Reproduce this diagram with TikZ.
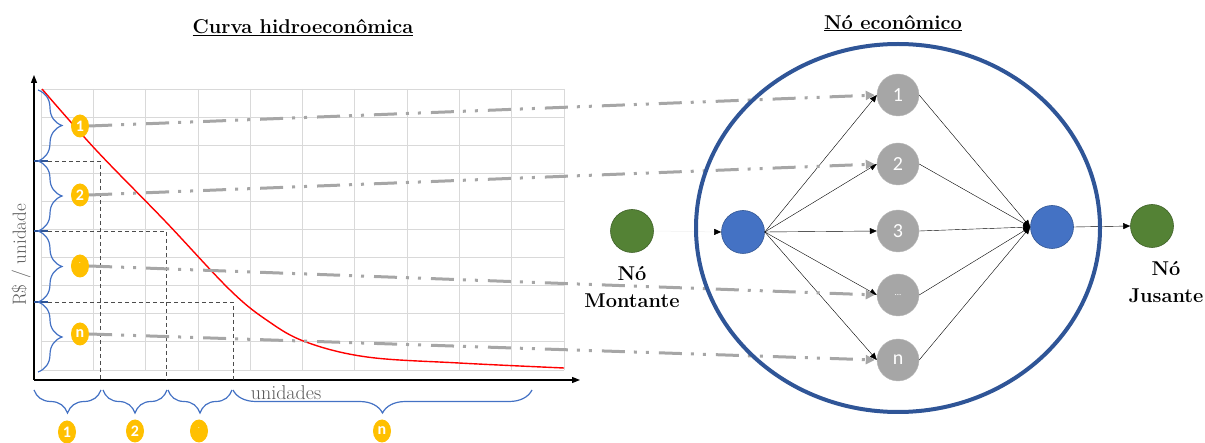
\documentclass[tikz,border=0pt]{standalone}
\usepackage{fontspec}
\newfontfamily\calibri{Carlito}
\usetikzlibrary{arrows.meta, positioning, shapes.geometric, decorations.pathreplacing}

\definecolor{amarelo}{HTML}{FFC000}
\definecolor{azul}{HTML}{4472C4}
\definecolor{azulesc}{HTML}{2F5597}
\definecolor{verde}{HTML}{548235}
\definecolor{cinza}{HTML}{A6A6A6}
\definecolor{grade}{HTML}{D9D9D9}
\definecolor{texto}{HTML}{595959}

\tikzset{
  no/.style={circle, minimum size=43pt, inner sep=0pt, draw=#1!75!black, fill=#1, line width=0.6pt},
  nocinza/.style={circle, minimum size=42pt, inner sep=0pt, fill=cinza, draw=cinza!80!white,
    text=white, font=\calibri\fontsize{20}{20}\selectfont},
  rotulo/.style={ellipse, minimum width=18pt, minimum height=23pt, inner sep=0pt, fill=amarelo,
    text=white, font=\calibri\bfseries\fontsize{16}{16}\selectfont},
  chave/.style={decorate, decoration={brace, amplitude=#1}, azul, line width=1.2pt},
  ligacao/.style={cinza, line width=3pt, dash pattern=on 23pt off 9pt on 3pt off 9pt on 3pt off 10pt,
    -{Triangle[length=9pt,width=9pt]}, shorten >=2pt},
  seta/.style={black, line width=0.4pt, -{Triangle[length=7pt,width=6pt]}},
  tracejado/.style={gray!60!black, line width=0.6pt, dash pattern=on 4pt off 3pt},
  titulo/.style={font=\bfseries\fontsize{20}{24}\selectfont},
  legenda/.style={font=\bfseries\fontsize{20}{27}\selectfont, align=center}
}

\begin{document}
\begin{tikzpicture}[x=1pt, y=-1pt]
\useasboundingbox (0,0) rectangle (1205,443);

% titulos
\node[titulo] (tcurva) at (303,28) {\underline{Curva hidroeconômica}};
\node[titulo] (tno) at (893,23) {\underline{Nó econômico}};

% grade do grafico
\foreach \i in {0,...,10}
  \draw[grade, line width=0.8pt] ({41+52.3*\i},89) -- ({41+52.3*\i},370);
\foreach \j in {0,...,10}
  \draw[grade, line width=0.8pt] (41,{89+28.1*\j}) -- (564,{89+28.1*\j});

% eixos
\coordinate (origem) at (34,380);
\coordinate (topoy) at (34,75);
\coordinate (fimx) at (580,380);
\draw[line width=1.2pt, -{Triangle[length=8pt,width=6pt]}] (origem) -- (topoy);
\draw[line width=1.2pt, -{Triangle[length=8pt,width=6pt]}] (origem) -- (fimx);

% curva
\draw[red, line width=1.4pt] plot[smooth, tension=0.6] coordinates
  {(42,89) (96,150) (165,221) (230,290) (268,321) (306,342) (367,357) (459,363) (564,368)};

% faixas
\draw[tracejado] (34,161) -| (100,380);
\draw[tracejado] (34,231) -| (166,380);
\draw[tracejado] (34,302) -| (233,380);
\foreach \y in {161,231,302}
  \draw[azulesc, line width=2pt] (34,\y) -- (48,\y);

% chaves
\foreach \a/\b in {90/161, 161/231, 231/302, 302/372}
  \draw[chave=24pt] (38,\a) -- (38,\b);
\foreach \a/\b in {34/101, 103/167, 168/232, 233/532}
  \draw[chave=23pt] (\b,390) -- (\a,390);

% rotulos amarelos
\node[rotulo] (r1) at (80,126) {1};
\node[rotulo] (r2) at (80,195) {2};
\node[rotulo] (r3) at (80,266) {\raisebox{6pt}{\fontsize{6}{6}\selectfont .}};
\node[rotulo] (rn) at (80,334) {n};
\node[rotulo] (b1) at (67,432) {1};
\node[rotulo] (b2) at (135,431) {2};
\node[rotulo] (b3) at (199,431) {\raisebox{6pt}{\fontsize{6}{6}\selectfont .}};
\node[rotulo] (bn) at (382,431) {n};

% textos dos eixos
\node[font=\fontsize{20}{20}\selectfont, text=texto] (unid) at (286,393) {unidades};
\node[font=\fontsize{19}{19}\selectfont, text=texto, rotate=90] (rsu) at (21,255) {R\$ / unidade};

% no economico
\node[nocinza] (g1) at (898,95) {1};
\node[nocinza] (g2) at (898,164) {2};
\node[nocinza] (g3) at (898,231) {3};
\node[nocinza] (g4) at (898,295) {\fontsize{9}{9}\selectfont ...};
\node[nocinza] (gn) at (898,360) {n};
\node[no=azul] (mont) at (743,232) {};
\node[no=azul] (jus) at (1052,227) {};
\node[no=verde] (nmont) at (632,231) {};
\node[no=verde] (njus) at (1152,226) {};

\node[legenda, below=10pt of nmont] (lmont) {Nó\\Montante};
\node[legenda, below=10pt of njus, xshift=14pt] (ljus) {Nó\\Jusante};

% ligacoes
\draw[line width=0.5pt, gray!12, -{Triangle[length=7pt,width=6pt,color=black]}] (nmont.east) -- (mont.west);
\foreach \g in {g1,g2,g3,g4,gn} {
  \draw[seta] (mont.east) -- (\g.west);
  \draw[seta] (\g.east) -- (jus.west);
}
\draw[seta] (jus.east) -- (njus.west);

\draw[ligacao] (r1.east) -- (g1.west);
\draw[ligacao] (r2.east) -- (g2.west);
\draw[ligacao] (r3.east) -- (g4.west);
\draw[ligacao] (rn.east) -- (gn.west);

\node[ellipse, draw=azulesc, line width=4pt, minimum width=404pt, minimum height=368pt] (borda) at (898,228) {};
\end{tikzpicture}
\end{document}
